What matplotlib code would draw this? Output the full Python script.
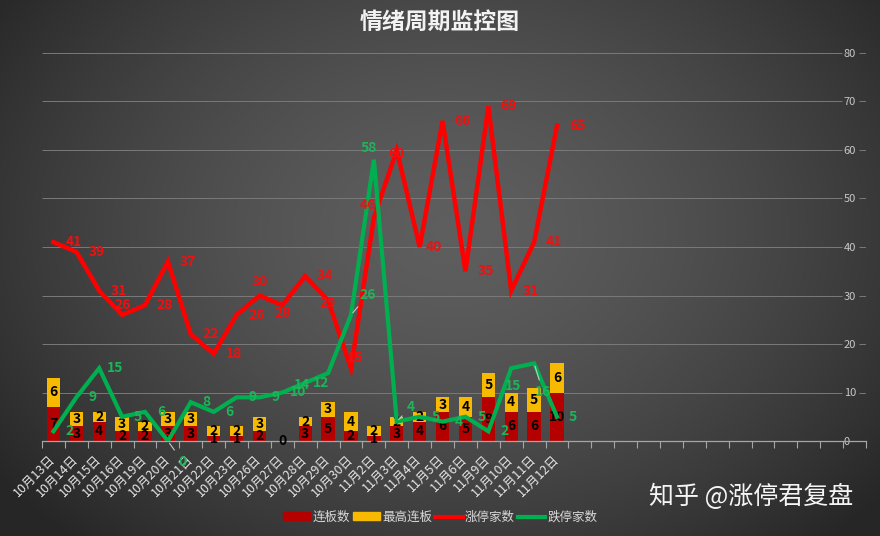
import numpy as np
import matplotlib
matplotlib.use('Agg')
import matplotlib.pyplot as plt
from matplotlib.patches import Patch
from matplotlib.lines import Line2D

plt.rcParams['font.family'] = ['Noto Sans CJK SC', 'DejaVu Sans']

# 数据
dates = ['10月13日', '10月14日', '10月15日', '10月16日', '10月19日', '10月20日',
         '10月21日', '10月22日', '10月23日', '10月26日', '10月27日', '10月28日',
         '10月29日', '10月30日', '11月2日', '11月3日', '11月4日', '11月5日',
         '11月6日', '11月9日', '11月10日', '11月11日', '11月12日']
lianban = [7, 3, 4, 2, 2, 3, 3, 1, 1, 2, 0, 3, 5, 2, 1, 3, 4, 6, 5, 9, 6, 6, 10]
zuigao = [6, 3, 2, 3, 2, 3, 3, 2, 2, 3, 0, 2, 3, 4, 2, 2, 2, 3, 4, 5, 4, 5, 6]
zhangting = [41, 39, 31, 26, 28, 37, 22, 18, 26, 30, 28, 34, 29, 15, 46, 60, 40,
             66, 35, 69, 31, 41, 65]
dieting = [2, 9, 15, 5, 6, 0, 8, 6, 9, 9, 10, 12, 14, 26, 58, 4, 5, 4, 5, 2, 15, 16, 5]
n_slots = 36

W, H = 880, 536
fig = plt.figure(figsize=(W / 100, H / 100), dpi=100)

# 背景渐变
bg = fig.add_axes([0, 0, 1, 1], zorder=-10)
yy, xx = np.mgrid[0:H, 0:W]
r = np.sqrt(((xx - 450) / 560.0) ** 2 + ((yy - 230) / 420.0) ** 2)
v = np.clip(0.37 - 0.22 * r ** 1.5, 0.15, 0.4)
bg.imshow(np.dstack([v, v, v]), aspect='auto', extent=[0, 1, 0, 1])
bg.axis('off')

ax = fig.add_axes([42 / W, 95 / H, 824 / W, 388 / H])
ax.set_facecolor('none')
x = np.arange(len(dates))

# 柱状图
b1 = ax.bar(x, lianban, width=0.58, color='#B50000', zorder=2)
b2 = ax.bar(x, zuigao, bottom=lianban, width=0.58, color='#F7BA00', zorder=2)
ax.bar_label(b1, label_type='center', fontsize=10, fontweight='bold', color='black')
ax.bar_label(b2, labels=[str(z) if z else '' for z in zuigao], label_type='center',
             fontsize=10, fontweight='bold', color='black')

# 折线
ax.plot(x, zhangting, color='#FF0000', lw=3.2, zorder=3, solid_joinstyle='miter')
ax.plot(x, dieting, color='#00B050', lw=3.0, zorder=4, solid_joinstyle='miter')

red_off = {3: (1, 10), 9: (0, 14), 10: (0, -8), 12: (0, -3), 13: (4, 10),
           14: (-6, 13), 15: (0, -4), 16: (14, 0)}
green_off = {5: (15, -21), 12: (-26, -12), 13: (17, 20), 14: (-5, 12),
             15: (14, 15), 20: (2, -18), 21: (9, -29)}
leaders = {5, 13, 15, 21}

for i, val in enumerate(zhangting):
    dx, dy = red_off.get(i, (20, 0))
    ax.annotate(str(val), (i, val), xytext=(dx, dy), textcoords='offset pixels',
                ha='center', va='center', fontsize=10, fontweight='bold',
                color='#F01010', zorder=5)

for i, val in enumerate(dieting):
    dx, dy = green_off.get(i, (16, 0))
    arrow = dict(arrowstyle='-', color='#c8c8c8', lw=0.8) if i in leaders else None
    ax.annotate(str(val), (i, val), xytext=(dx, dy), textcoords='offset pixels',
                ha='center', va='center', fontsize=10, fontweight='bold',
                color='#1DB45A', zorder=5, arrowprops=arrow, annotation_clip=False)

# 坐标轴
ax.set_xlim(-0.5, n_slots - 0.5)
ax.set_ylim(0, 80)
ax.hlines(range(10, 90, 10), -0.5, 34.45, color='#7a7a7a', lw=0.7, zorder=1)
ax.hlines(range(10, 90, 10), 35.2, 35.5, color='#7a7a7a', lw=0.7, zorder=1)
for s in ['top', 'left', 'right']:
    ax.spines[s].set_visible(False)
ax.spines['bottom'].set_color('#a6a6a6')
ax.spines['bottom'].set_linewidth(0.9)

ax.set_xticks(x)
ax.set_xticklabels(dates, rotation=45, ha='right', va='center', rotation_mode='anchor',
                   fontsize=9, color='#e6e6e6')
ax.set_xticks(np.arange(-0.5, n_slots, 1), minor=True)
ax.tick_params(axis='x', which='major', length=0, pad=12)
ax.tick_params(axis='x', which='minor', length=5, color='#a6a6a6', width=0.8)

ax.yaxis.tick_right()
ax.set_yticks(range(0, 90, 10))
ax.tick_params(axis='y', length=0, pad=-16, labelsize=8, labelcolor='#c8c8c8')

# 标题、图例、水印
fig.text(0.5, 0.958, '情绪周期监控图', ha='center', va='center', fontsize=16.5,
         fontweight='bold', color='#f2f2f2')

handles = [Patch(color='#B50000'), Patch(color='#F7BA00'),
           Line2D([], [], color='#FF0000', lw=3), Line2D([], [], color='#00B050', lw=3)]
fig.legend(handles, ['连板数', '最高连板', '涨停家数', '跌停家数'], loc='center',
           bbox_to_anchor=(0.5, 0.035), ncol=4, frameon=False, fontsize=9,
           labelcolor='#d9d9d9', handlelength=2.2, handleheight=0.6,
           handletextpad=0.2, columnspacing=0.2)

fig.text(0.853, 0.073, '知乎 @涨停君复盘', ha='center', va='center', fontsize=18,
         color='#f5f5f5')

fig.savefig('out.png', dpi=100)
